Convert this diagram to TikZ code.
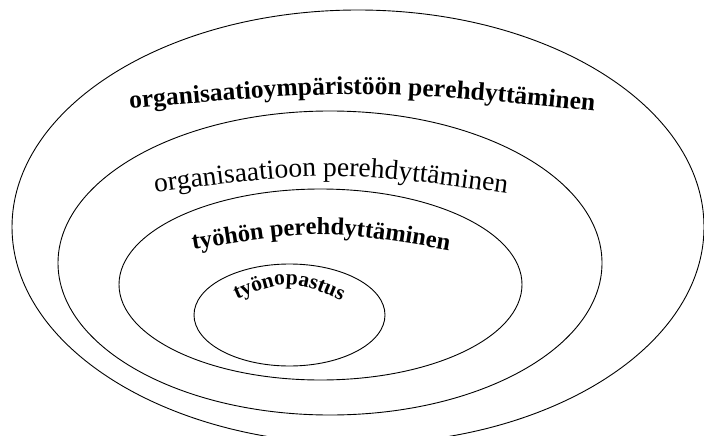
\documentclass[tikz,border=0pt]{standalone}
\usepackage{fontspec}
\setmainfont{Liberation Serif}
\usetikzlibrary{decorations.text}
\begin{document}
\begin{tikzpicture}[x=1pt,y=-1pt,
  ring/.style={draw=black, line width=0.9pt},
  arctext/.style={decorate, decoration={text along path, text align=center, text={#1}}}]
\useasboundingbox (0,0) rectangle (704,436);
\clip (0,0) rectangle (704,436);
\coordinate (c1) at (358,227);
\coordinate (c2) at (330,263);
\coordinate (c3) at (320.5,284.5);
\coordinate (c4) at (289.5,315);
\draw[ring] (c1) ellipse [x radius=346pt, y radius=217pt];
\draw[ring] (c2) ellipse [x radius=272pt, y radius=152pt];
\draw[ring] (c3) ellipse [x radius=201.5pt, y radius=95.5pt];
\draw[ring] (c4) ellipse [x radius=95.5pt, y radius=51pt];
\path[arctext={|\bfseries\fontsize{25.5}{25.5}\selectfont|organisaatioympäristöön perehdyttäminen}]
  (92,112) .. controls (362,88) .. (632,115);
\path[arctext={|\fontsize{27.5}{27.5}\selectfont|organisaatioon perehdyttäminen}]
  (121,197) .. controls (331,169) .. (541,198);
\path[arctext={|\bfseries\fontsize{24.5}{24.5}\selectfont|työhön perehdyttäminen}]
  (166,254) .. controls (321,228) .. (476,255);
\path[arctext={|\bfseries\fontsize{21.5}{21.5}\selectfont|työnopastus}]
  (214,310) .. controls (289,276) .. (364,311);
\end{tikzpicture}
\end{document}
